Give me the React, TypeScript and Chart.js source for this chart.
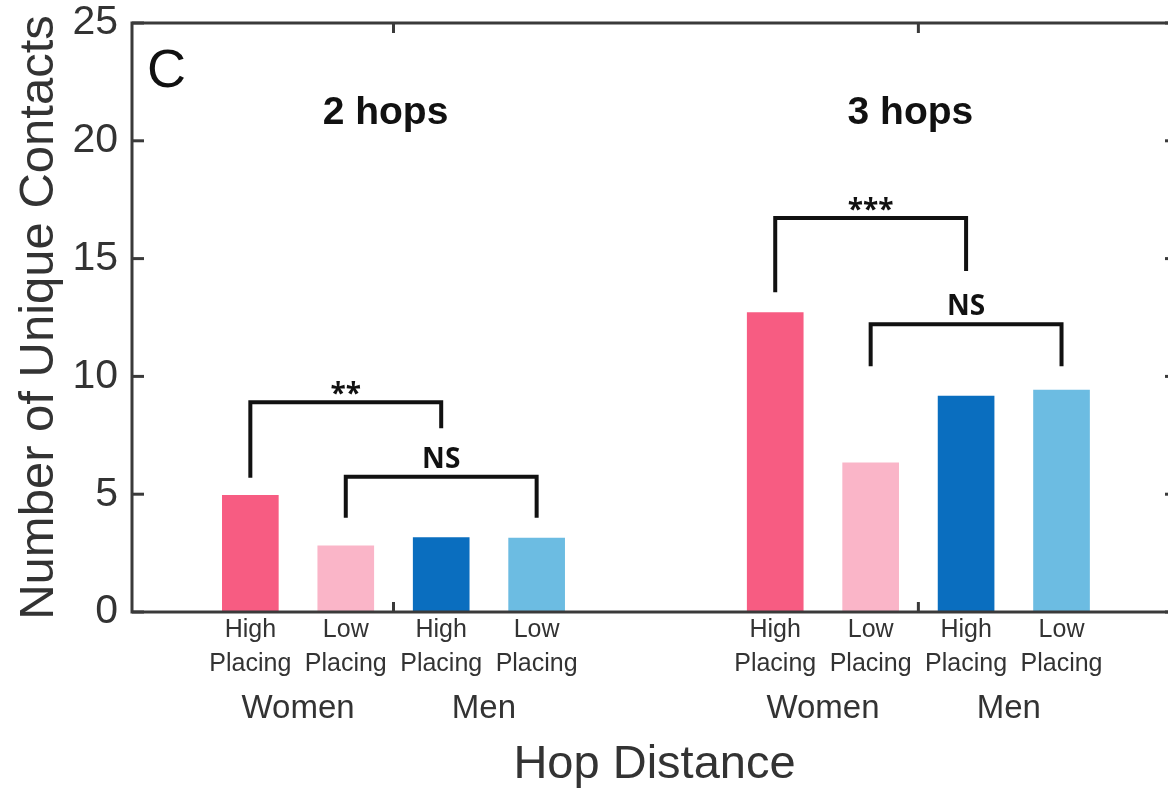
import React, { useEffect, useRef } from "react";
import { Chart, registerables } from "chart.js";

Chart.register(...registerables);

// ---- data ----
const hopGroups = ["2 hops", "3 hops"];
const genders = ["Women", "Men"];
const placings = [["High", "Placing"], ["Low", "Placing"], ["High", "Placing"], ["Low", "Placing"]];
const twoHopValues = [4.95, 2.81, 3.16, 3.14];
const threeHopValues = [12.71, 6.33, 9.16, 9.42];
const barColors = ["#F75C82", "#FAB5C8", "#0A6EBF", "#6CBCE2"];
const yTickValues = [0, 5, 10, 15, 20, 25];
const brackets = [
  { group: 0, from: 0, to: 2, top: 8.9, leftEnd: 5.7, rightEnd: 7.8, label: "**" },
  { group: 0, from: 1, to: 3, top: 5.74, leftEnd: 4.0, rightEnd: 4.0, label: "NS" },
  { group: 1, from: 0, to: 2, top: 16.72, leftEnd: 13.57, rightEnd: 14.47, label: "***" },
  { group: 1, from: 1, to: 3, top: 12.21, leftEnd: 10.43, rightEnd: 10.43, label: "NS" },
];
const panelLabel = "C";
const yTitle = "Number of Unique Contacts";
const xTitle = "Hop Distance";

// slot index for each bar on the linear x scale (groups separated by a gap)
const barSlots = hopGroups.flatMap((_, g) => placings.map((_, i) => 1 + i + g * 5.5));
const allValues = [...twoHopValues, ...threeHopValues];

const TEXT = "#333333";
const SANS = "'Liberation Sans', Arial, sans-serif";

const slot = (g: number, i: number) => barSlots[g * placings.length + i];

const annotPlugin = {
  id: "annot",
  afterDatasetsDraw(chart: any) {
    const { ctx, chartArea: a, scales } = chart;
    const x = scales.x;
    const y = scales.y;
    const line = (x1: number, y1: number, x2: number, y2: number) => {
      ctx.beginPath();
      ctx.moveTo(x1, y1);
      ctx.lineTo(x2, y2);
      ctx.stroke();
    };
    ctx.save();
    // frame
    ctx.strokeStyle = "#3a3a3a";
    ctx.lineWidth = 3;
    ctx.strokeRect(a.left, a.top, a.right - a.left, a.bottom - a.top);
    // inward y ticks
    for (const v of yTickValues) {
      const py = y.getPixelForValue(v);
      line(a.left, py, a.left + 12, py);
      line(a.right, py, a.right - 12, py);
    }
    // inward x ticks at group centres
    hopGroups.forEach((_, g) => {
      const c = (slot(g, 1) + slot(g, 2)) / 2;
      const px = x.getPixelForValue(c);
      line(px, a.bottom, px, a.bottom - 10);
      line(px, a.top, px, a.top + 10);
    });
    // brackets
    ctx.strokeStyle = "#111";
    ctx.lineWidth = 4;
    ctx.lineJoin = "miter";
    ctx.fillStyle = "#111";
    ctx.textAlign = "center";
    ctx.textBaseline = "alphabetic";
    for (const b of brackets) {
      const x1 = x.getPixelForValue(slot(b.group, b.from));
      const x2 = x.getPixelForValue(slot(b.group, b.to));
      const yt = y.getPixelForValue(b.top);
      ctx.beginPath();
      ctx.moveTo(x1, y.getPixelForValue(b.leftEnd));
      ctx.lineTo(x1, yt);
      ctx.lineTo(x2, yt);
      ctx.lineTo(x2, y.getPixelForValue(b.rightEnd));
      ctx.stroke();
      ctx.font = "bold 28px 'Open Sans', sans-serif";
      if (b.label.startsWith("*")) {
        ctx.fillText(b.label, (x1 + x2) / 2, yt + 1);
      } else {
        ctx.fillText(b.label, (x1 + x2) / 2, yt - 9);
      }
    }
    // panel label
    ctx.fillStyle = "#111";
    ctx.textAlign = "left";
    ctx.font = `54px ${SANS}`;
    ctx.fillText(panelLabel, a.left + 15, a.top + 64);
    // group titles
    ctx.textAlign = "center";
    ctx.font = `bold 39px ${SANS}`;
    hopGroups.forEach((t, g) => {
      const c = (slot(g, 1) + slot(g, 2)) / 2;
      ctx.fillText(t, x.getPixelForValue(c) - 8, a.top + 101);
    });
    // gender labels
    ctx.fillStyle = TEXT;
    ctx.font = `33px ${SANS}`;
    hopGroups.forEach((_, g) => {
      genders.forEach((gen, k) => {
        const c = (slot(g, 2 * k) + slot(g, 2 * k + 1)) / 2;
        ctx.fillText(gen, x.getPixelForValue(c) - (k === 1 ? 5 : 0), a.bottom + 106);
      });
    });
    ctx.restore();
  },
};

export default function App() {
  const ref = useRef<HTMLCanvasElement | null>(null);
  useEffect(() => {
    if (!ref.current) return;
    const chart = new Chart(ref.current, {
      type: "bar",
      data: {
        datasets: [
          {
            data: barSlots.map((s, i) => ({ x: s, y: allValues[i] })),
            backgroundColor: allValues.map((_, i) => barColors[i % barColors.length]),
            borderWidth: 0,
            barThickness: 56,
          },
        ],
      },
      options: {
        animation: false,
        responsive: false,
        devicePixelRatio: 1,
        layout: { padding: { top: 23, right: 3, left: 0, bottom: 0 } },
        plugins: { legend: { display: false }, tooltip: { enabled: false } },
        scales: {
          x: {
            type: "linear",
            offset: false,
            min: -0.24,
            max: 10.71,
            grid: { display: false, drawTicks: false },
            border: { display: false },
            afterBuildTicks: (scale: any) => {
              scale.ticks = barSlots.map((v) => ({ value: v }));
            },
            afterFit: (scale: any) => {
              scale.height = 791 - 612;
              scale.paddingLeft = 0;
              scale.paddingRight = 0;
            },
            ticks: {
              autoSkip: false,
              maxRotation: 0,
              padding: 1,
              color: TEXT,
              font: { family: SANS, size: 25, lineHeight: "34px" },
              callback: (_v: any, i: number) => placings[i % placings.length],
            },
            title: {
              display: true,
              text: xTitle,
              color: TEXT,
              font: { family: SANS, size: 47, lineHeight: 1 },
              padding: { top: 0, bottom: 2 },
            },
          },
          y: {
            min: 0,
            max: 25,
            grid: { display: false, drawTicks: false },
            border: { display: false },
            afterBuildTicks: (scale: any) => {
              scale.ticks = yTickValues.map((v) => ({ value: v }));
            },
            afterFit: (scale: any) => {
              scale.width = 132;
              scale.paddingTop = 0;
              scale.paddingBottom = 0;
            },
            ticks: {
              padding: 14,
              color: TEXT,
              font: { family: SANS, size: 41 },
            },
            title: {
              display: true,
              text: yTitle,
              color: TEXT,
              font: { family: SANS, size: 49, lineHeight: 1 },
              padding: { top: 15, bottom: 0 },
            },
          },
        },
      },
      plugins: [annotPlugin],
    });
    return () => chart.destroy();
  }, []);
  return (
    <div
      style={{
        position: "fixed",
        left: 0,
        top: 0,
        width: 1168,
        height: 791,
        overflow: "hidden",
        background: "#fff",
      }}
    >
      <canvas ref={ref} width={1180} height={791} style={{ display: "block", width: 1180, height: 791 }} />
    </div>
  );
}
